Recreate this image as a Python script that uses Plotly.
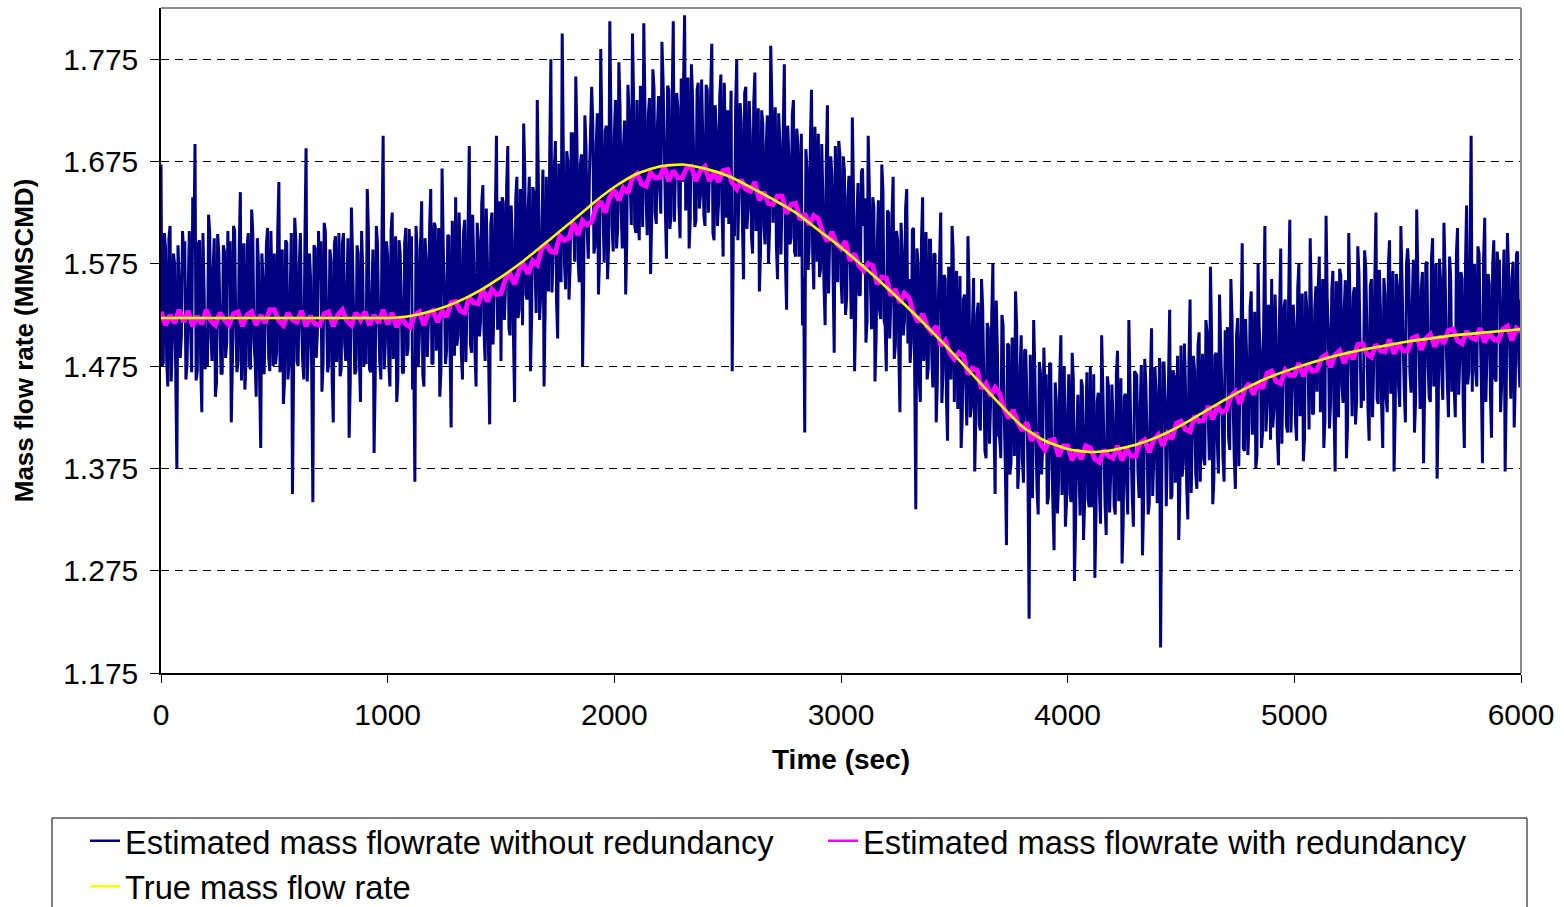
import plotly.graph_objects as go

# ---------------- data ----------------
# Estimated mass flowrate without redundancy, read in two interleaved sample sets:
# samples at t = 0, 10, 20, ... 6000 s and samples at t = 5, 15, ... 5995 s
EVEN_STEP = 10
ODD_OFFSET = 5
MAG_STEP = 20       # seconds between samples of the estimate with redundancy
TRUE_STEP = 100     # seconds between samples of the true flow

est_no_red_even = [
    1.672, 1.478, 1.590, 1.455, 1.612, 1.500, 1.575, 1.375, 1.560, 1.505,  # 0
    1.585, 1.462, 1.548, 1.515, 1.640, 1.692, 1.470, 1.598, 1.430, 1.552,  # 100
    1.490, 1.623, 1.505, 1.571, 1.445, 1.604, 1.520, 1.468, 1.587, 1.498,  # 200
    1.555, 1.420, 1.612, 1.512, 1.480, 1.645, 1.530, 1.452, 1.592, 1.475,  # 300
    1.628, 1.500, 1.445, 1.575, 1.395, 1.560, 1.518, 1.610, 1.470, 1.540,  # 400
    1.585, 1.488, 1.655, 1.505, 1.438, 1.598, 1.462, 1.545, 1.350, 1.620,  # 500
    1.480, 1.572, 1.518, 1.462, 1.688, 1.495, 1.560, 1.342, 1.590, 1.508,  # 600
    1.560, 1.450, 1.615, 1.530, 1.478, 1.578, 1.420, 1.602, 1.512, 1.465,  # 700
    1.595, 1.498, 1.548, 1.405, 1.630, 1.522, 1.470, 1.585, 1.440, 1.568,  # 800
    1.505, 1.648, 1.472, 1.540, 1.390, 1.612, 1.525, 1.462, 1.700, 1.498,  # 900
    1.582, 1.455, 1.625, 1.510, 1.440, 1.598, 1.535, 1.468, 1.610, 1.492,  # 1000
    1.560, 1.452, 1.362, 1.590, 1.505, 1.636, 1.455, 1.578, 1.520, 1.648,  # 1100
    1.478, 1.612, 1.530, 1.445, 1.668, 1.552, 1.490, 1.602, 1.415, 1.575,  # 1200
    1.640, 1.505, 1.585, 1.462, 1.618, 1.532, 1.690, 1.488, 1.570, 1.455,  # 1300
    1.598, 1.520, 1.652, 1.480, 1.578, 1.418, 1.625, 1.545, 1.700, 1.512,  # 1400
    1.480, 1.635, 1.552, 1.690, 1.505, 1.598, 1.440, 1.660, 1.530, 1.615,  # 1500
    1.712, 1.545, 1.628, 1.470, 1.650, 1.575, 1.735, 1.520, 1.605, 1.455,  # 1600
    1.660, 1.548, 1.775, 1.590, 1.695, 1.502, 1.640, 1.800, 1.575, 1.685,  # 1700
    1.540, 1.702, 1.615, 1.758, 1.580, 1.672, 1.475, 1.720, 1.610, 1.660,  # 1800
    1.748, 1.585, 1.690, 1.545, 1.785, 1.630, 1.705, 1.560, 1.812, 1.612,  # 1900
    1.700, 1.590, 1.772, 1.628, 1.688, 1.545, 1.750, 1.655, 1.800, 1.612,  # 2000
    1.735, 1.598, 1.690, 1.810, 1.640, 1.720, 1.565, 1.765, 1.625, 1.708,  # 2100
    1.650, 1.792, 1.695, 1.580, 1.745, 1.622, 1.812, 1.670, 1.728, 1.600,  # 2200
    1.655, 1.818, 1.715, 1.590, 1.770, 1.680, 1.618, 1.752, 1.642, 1.700,  # 2300
    1.612, 1.745, 1.668, 1.790, 1.598, 1.705, 1.635, 1.760, 1.582, 1.690,  # 2400
    1.725, 1.680, 1.470, 1.602, 1.775, 1.645, 1.712, 1.560, 1.748, 1.630,  # 2500
    1.700, 1.585, 1.762, 1.640, 1.548, 1.725, 1.610, 1.690, 1.575, 1.788,  # 2600
    1.615, 1.728, 1.560, 1.695, 1.640, 1.770, 1.530, 1.680, 1.600, 1.735,  # 2700
    1.582, 1.690, 1.625, 1.515, 1.410, 1.668, 1.595, 1.745, 1.550, 1.652,  # 2800
    1.702, 1.570, 1.640, 1.515, 1.730, 1.598, 1.660, 1.488, 1.625, 1.695,  # 2900
    1.560, 1.680, 1.525, 1.640, 1.590, 1.718, 1.470, 1.620, 1.545, 1.665,  # 3000
    1.612, 1.498, 1.700, 1.555, 1.640, 1.460, 1.595, 1.530, 1.672, 1.520,  # 3100
    1.470, 1.625, 1.540, 1.660, 1.495, 1.598, 1.430, 1.585, 1.520, 1.648,  # 3200
    1.560, 1.498, 1.610, 1.335, 1.575, 1.440, 1.640, 1.512, 1.462, 1.598,  # 3300
    1.488, 1.585, 1.420, 1.545, 1.625, 1.470, 1.560, 1.402, 1.530, 1.612,  # 3400
    1.440, 1.568, 1.485, 1.395, 1.540, 1.460, 1.602, 1.425, 1.515, 1.372,  # 3500
    1.525, 1.418, 1.560, 1.462, 1.385, 1.512, 1.440, 1.575, 1.350, 1.490,  # 3600
    1.405, 1.525, 1.430, 1.300, 1.495, 1.380, 1.462, 1.548, 1.355, 1.470,  # 3700
    1.385, 1.490, 1.445, 1.228, 1.360, 1.520, 1.405, 1.330, 1.468, 1.398,  # 3800
    1.452, 1.340, 1.478, 1.385, 1.295, 1.440, 1.362, 1.505, 1.405, 1.318,  # 3900
    1.430, 1.350, 1.488, 1.265, 1.410, 1.372, 1.462, 1.305, 1.420, 1.345,  # 4000
    1.475, 1.380, 1.268, 1.440, 1.352, 1.505, 1.398, 1.310, 1.455, 1.372,  # 4100
    1.420, 1.330, 1.490, 1.385, 1.282, 1.445, 1.360, 1.520, 1.395, 1.318,  # 4200
    1.468, 1.372, 1.435, 1.290, 1.482, 1.405, 1.340, 1.512, 1.385, 1.450,  # 4300
    1.360, 1.200, 1.478, 1.440, 1.392, 1.530, 1.348, 1.465, 1.418, 1.305,  # 4400
    1.495, 1.380, 1.452, 1.325, 1.540, 1.410, 1.470, 1.355, 1.508, 1.430,  # 4500
    1.385, 1.520, 1.428, 1.572, 1.340, 1.485, 1.402, 1.545, 1.452, 1.362,  # 4600
    1.498, 1.405, 1.560, 1.440, 1.355, 1.522, 1.468, 1.595, 1.392, 1.480,  # 4700
    1.420, 1.548, 1.452, 1.375, 1.575, 1.490, 1.410, 1.612, 1.438, 1.525,  # 4800
    1.560, 1.432, 1.505, 1.378, 1.590, 1.470, 1.540, 1.410, 1.618, 1.455,  # 4900
    1.515, 1.402, 1.575, 1.460, 1.382, 1.548, 1.495, 1.600, 1.428, 1.530,  # 5000
    1.450, 1.582, 1.478, 1.395, 1.622, 1.510, 1.440, 1.568, 1.372, 1.535,  # 5100
    1.570, 1.455, 1.530, 1.385, 1.605, 1.482, 1.545, 1.418, 1.592, 1.500,  # 5200
    1.460, 1.588, 1.512, 1.402, 1.560, 1.475, 1.625, 1.438, 1.530, 1.395,  # 5300
    1.545, 1.430, 1.598, 1.490, 1.372, 1.565, 1.455, 1.612, 1.500, 1.420,  # 5400
    1.590, 1.468, 1.535, 1.410, 1.628, 1.495, 1.550, 1.380, 1.575, 1.478,  # 5500
    1.440, 1.600, 1.512, 1.365, 1.580, 1.470, 1.615, 1.498, 1.425, 1.560,  # 5600
    1.505, 1.425, 1.610, 1.482, 1.560, 1.395, 1.632, 1.470, 1.700, 1.548,  # 5700
    1.470, 1.592, 1.515, 1.380, 1.620, 1.488, 1.555, 1.405, 1.598, 1.460,  # 5800
    1.570, 1.430, 1.540, 1.372, 1.605, 1.495, 1.560, 1.415, 1.585, 1.480,  # 5900
    1.540,                                                                 # 6000
]

est_no_red_odd = [
    1.475, 1.605, 1.480, 1.600, 1.460, 1.585, 1.467, 1.593, 1.483, 1.607,  # 5
    1.597, 1.477, 1.607, 1.469, 1.589, 1.461, 1.595, 1.479, 1.605, 1.472,  # 105
    1.475, 1.605, 1.480, 1.600, 1.460, 1.585, 1.467, 1.593, 1.483, 1.607,  # 205
    1.597, 1.477, 1.607, 1.469, 1.589, 1.461, 1.595, 1.479, 1.605, 1.472,  # 305
    1.605, 1.480, 1.600, 1.460, 1.585, 1.467, 1.593, 1.483, 1.607, 1.475,  # 405
    1.477, 1.607, 1.469, 1.589, 1.461, 1.595, 1.479, 1.605, 1.472, 1.597,  # 505
    1.475, 1.605, 1.480, 1.600, 1.460, 1.585, 1.467, 1.593, 1.483, 1.607,  # 605
    1.597, 1.477, 1.607, 1.469, 1.589, 1.461, 1.595, 1.479, 1.605, 1.472,  # 705
    1.605, 1.480, 1.600, 1.460, 1.585, 1.467, 1.593, 1.483, 1.607, 1.475,  # 805
    1.477, 1.607, 1.469, 1.589, 1.461, 1.595, 1.479, 1.605, 1.472, 1.597,  # 905
    1.477, 1.607, 1.482, 1.602, 1.462, 1.587, 1.469, 1.595, 1.485, 1.609,  # 1005
    1.602, 1.482, 1.612, 1.474, 1.594, 1.466, 1.600, 1.484, 1.610, 1.477,  # 1105
    1.615, 1.490, 1.610, 1.470, 1.595, 1.477, 1.603, 1.493, 1.617, 1.485,  # 1205
    1.495, 1.625, 1.487, 1.607, 1.479, 1.613, 1.497, 1.623, 1.490, 1.615,  # 1305
    1.504, 1.634, 1.509, 1.629, 1.489, 1.614, 1.496, 1.622, 1.512, 1.636,  # 1405
    1.640, 1.520, 1.650, 1.512, 1.632, 1.504, 1.638, 1.522, 1.648, 1.515,  # 1505
    1.665, 1.540, 1.660, 1.520, 1.645, 1.527, 1.653, 1.543, 1.667, 1.535,  # 1605
    1.555, 1.685, 1.547, 1.667, 1.539, 1.673, 1.557, 1.683, 1.550, 1.675,  # 1705
    1.572, 1.702, 1.577, 1.697, 1.557, 1.682, 1.564, 1.690, 1.580, 1.704,  # 1805
    1.712, 1.592, 1.722, 1.584, 1.704, 1.576, 1.710, 1.594, 1.720, 1.587,  # 1905
    1.735, 1.610, 1.730, 1.590, 1.715, 1.597, 1.723, 1.613, 1.737, 1.605,  # 2005
    1.619, 1.749, 1.611, 1.731, 1.603, 1.737, 1.621, 1.747, 1.614, 1.739,  # 2105
    1.624, 1.754, 1.629, 1.749, 1.609, 1.734, 1.616, 1.742, 1.632, 1.756,  # 2205
    1.747, 1.627, 1.757, 1.619, 1.739, 1.611, 1.745, 1.629, 1.755, 1.622,  # 2305
    1.750, 1.625, 1.745, 1.605, 1.730, 1.612, 1.738, 1.628, 1.752, 1.620,  # 2405
    1.614, 1.744, 1.606, 1.726, 1.598, 1.732, 1.616, 1.742, 1.609, 1.734,  # 2505
    1.602, 1.732, 1.607, 1.727, 1.587, 1.712, 1.594, 1.720, 1.610, 1.734,  # 2605
    1.712, 1.592, 1.722, 1.584, 1.704, 1.576, 1.710, 1.594, 1.720, 1.587,  # 2705
    1.707, 1.582, 1.702, 1.562, 1.687, 1.569, 1.695, 1.585, 1.709, 1.577,  # 2805
    1.562, 1.692, 1.554, 1.674, 1.546, 1.680, 1.564, 1.690, 1.557, 1.682,  # 2905
    1.536, 1.666, 1.541, 1.661, 1.521, 1.646, 1.528, 1.654, 1.544, 1.668,  # 3005
    1.639, 1.519, 1.649, 1.511, 1.631, 1.503, 1.637, 1.521, 1.647, 1.514,  # 3105
    1.627, 1.502, 1.622, 1.482, 1.607, 1.489, 1.615, 1.505, 1.629, 1.497,  # 3205
    1.478, 1.608, 1.470, 1.590, 1.462, 1.596, 1.480, 1.606, 1.473, 1.598,  # 3305
    1.454, 1.584, 1.459, 1.579, 1.439, 1.564, 1.446, 1.572, 1.462, 1.586,  # 3405
    1.553, 1.433, 1.563, 1.425, 1.545, 1.417, 1.551, 1.435, 1.561, 1.428,  # 3505
    1.537, 1.412, 1.532, 1.392, 1.517, 1.399, 1.525, 1.415, 1.539, 1.407,  # 3605
    1.385, 1.515, 1.377, 1.497, 1.369, 1.503, 1.387, 1.513, 1.380, 1.505,  # 3705
    1.361, 1.491, 1.366, 1.486, 1.346, 1.471, 1.353, 1.479, 1.369, 1.493,  # 3805
    1.467, 1.347, 1.477, 1.339, 1.459, 1.331, 1.465, 1.349, 1.475, 1.342,  # 3905
    1.467, 1.342, 1.462, 1.322, 1.447, 1.329, 1.455, 1.345, 1.469, 1.337,  # 4005
    1.337, 1.467, 1.329, 1.449, 1.321, 1.455, 1.339, 1.465, 1.332, 1.457,  # 4105
    1.338, 1.468, 1.343, 1.463, 1.323, 1.448, 1.330, 1.456, 1.346, 1.470,  # 4205
    1.466, 1.346, 1.476, 1.338, 1.458, 1.330, 1.464, 1.348, 1.474, 1.341,  # 4305
    1.483, 1.358, 1.478, 1.338, 1.463, 1.345, 1.471, 1.361, 1.485, 1.353,  # 4405
    1.367, 1.497, 1.359, 1.479, 1.351, 1.485, 1.369, 1.495, 1.362, 1.487,  # 4505
    1.378, 1.508, 1.383, 1.503, 1.363, 1.488, 1.370, 1.496, 1.386, 1.510,  # 4605
    1.513, 1.393, 1.523, 1.385, 1.505, 1.377, 1.511, 1.395, 1.521, 1.388,  # 4705
    1.533, 1.408, 1.528, 1.388, 1.513, 1.395, 1.521, 1.411, 1.535, 1.403,  # 4805
    1.415, 1.545, 1.407, 1.527, 1.399, 1.533, 1.417, 1.543, 1.410, 1.535,  # 4905
    1.421, 1.551, 1.426, 1.546, 1.406, 1.531, 1.413, 1.539, 1.429, 1.553,  # 5005
    1.550, 1.430, 1.560, 1.422, 1.542, 1.414, 1.548, 1.432, 1.558, 1.425,  # 5105
    1.564, 1.439, 1.559, 1.419, 1.544, 1.426, 1.552, 1.442, 1.566, 1.434,  # 5205
    1.441, 1.571, 1.433, 1.553, 1.425, 1.559, 1.443, 1.569, 1.436, 1.561,  # 5305
    1.443, 1.573, 1.448, 1.568, 1.428, 1.553, 1.435, 1.561, 1.451, 1.575,  # 5405
    1.569, 1.449, 1.579, 1.441, 1.561, 1.433, 1.567, 1.451, 1.577, 1.444,  # 5505
    1.580, 1.455, 1.575, 1.435, 1.560, 1.442, 1.568, 1.458, 1.582, 1.450,  # 5605
    1.455, 1.585, 1.447, 1.567, 1.439, 1.573, 1.457, 1.583, 1.450, 1.575,  # 5705
    1.455, 1.585, 1.460, 1.580, 1.440, 1.565, 1.448, 1.573, 1.463, 1.587,  # 5805
    1.579, 1.459, 1.589, 1.451, 1.571, 1.443, 1.577, 1.461, 1.587, 1.454,  # 5905
]

est_with_redundancy = [
    1.528, 1.515, 1.525, 1.517, 1.530,  # 0
    1.518, 1.529, 1.514, 1.524, 1.516,  # 100
    1.530, 1.519, 1.515, 1.527, 1.520,  # 200
    1.515, 1.526, 1.528, 1.514, 1.525,  # 300
    1.528, 1.515, 1.525, 1.517, 1.530,  # 400
    1.530, 1.519, 1.515, 1.527, 1.520,  # 500
    1.518, 1.529, 1.514, 1.524, 1.516,  # 600
    1.515, 1.526, 1.528, 1.514, 1.525,  # 700
    1.530, 1.519, 1.515, 1.527, 1.520,  # 800
    1.528, 1.515, 1.525, 1.517, 1.530,  # 900
    1.516, 1.527, 1.513, 1.523, 1.516,  # 1000
    1.513, 1.525, 1.528, 1.515, 1.527,  # 1100
    1.529, 1.518, 1.529, 1.523, 1.537,  # 1200
    1.538, 1.529, 1.527, 1.542, 1.537,  # 1300
    1.536, 1.550, 1.538, 1.550, 1.545,  # 1400
    1.546, 1.560, 1.565, 1.555, 1.569,  # 1500
    1.574, 1.565, 1.578, 1.574, 1.590,  # 1600
    1.594, 1.587, 1.586, 1.602, 1.598,  # 1700
    1.600, 1.615, 1.603, 1.617, 1.613,  # 1800
    1.616, 1.630, 1.636, 1.625, 1.640,  # 1900
    1.647, 1.637, 1.649, 1.644, 1.659,  # 2000
    1.663, 1.653, 1.651, 1.664, 1.659,  # 2100
    1.659, 1.670, 1.656, 1.666, 1.659,  # 2200
    1.659, 1.669, 1.670, 1.656, 1.666,  # 2300
    1.670, 1.656, 1.664, 1.655, 1.666,  # 2400
    1.667, 1.654, 1.648, 1.657, 1.648,  # 2500
    1.646, 1.655, 1.637, 1.645, 1.634,  # 2600
    1.633, 1.641, 1.641, 1.624, 1.633,  # 2700
    1.634, 1.618, 1.624, 1.613, 1.622,  # 2800
    1.619, 1.605, 1.597, 1.606, 1.595,  # 2900
    1.590, 1.597, 1.578, 1.585, 1.573,  # 3000
    1.568, 1.575, 1.573, 1.555, 1.562,  # 3100
    1.561, 1.544, 1.550, 1.537, 1.546,  # 3200
    1.542, 1.527, 1.518, 1.526, 1.514,  # 3300
    1.508, 1.514, 1.495, 1.500, 1.488,  # 3400
    1.482, 1.488, 1.485, 1.467, 1.473,  # 3500
    1.471, 1.453, 1.458, 1.446, 1.454,  # 3600
    1.448, 1.433, 1.424, 1.432, 1.420,  # 3700
    1.412, 1.420, 1.402, 1.410, 1.399,  # 3800
    1.393, 1.402, 1.403, 1.387, 1.397,  # 3900
    1.397, 1.383, 1.393, 1.384, 1.397,  # 4000
    1.395, 1.384, 1.381, 1.393, 1.387,  # 4100
    1.385, 1.397, 1.383, 1.394, 1.387,  # 4200
    1.387, 1.400, 1.403, 1.391, 1.403,  # 4300
    1.408, 1.397, 1.409, 1.404, 1.419,  # 4400
    1.421, 1.413, 1.411, 1.426, 1.421,  # 4500
    1.422, 1.436, 1.423, 1.436, 1.430,  # 4600
    1.432, 1.445, 1.450, 1.438, 1.452,  # 4700
    1.458, 1.447, 1.459, 1.453, 1.468,  # 4800
    1.470, 1.460, 1.458, 1.471, 1.466,  # 4900
    1.466, 1.478, 1.465, 1.476, 1.470,  # 5000
    1.471, 1.483, 1.486, 1.474, 1.486,  # 5100
    1.490, 1.478, 1.489, 1.482, 1.496,  # 5200
    1.497, 1.487, 1.484, 1.496, 1.490,  # 5300
    1.489, 1.501, 1.487, 1.497, 1.490,  # 5400
    1.490, 1.502, 1.504, 1.491, 1.502,  # 5500
    1.506, 1.494, 1.504, 1.497, 1.510,  # 5600
    1.511, 1.500, 1.497, 1.509, 1.503,  # 5700
    1.501, 1.512, 1.498, 1.508, 1.501,  # 5800
    1.500, 1.511, 1.514, 1.500, 1.512,  # 5900
    1.509,                              # 6000
]

true_flow = [
    1.522, 1.522, 1.522, 1.522, 1.522, 1.522, 1.522, 1.522, 1.522, 1.522,  # 0-900
    1.522, 1.524, 1.529, 1.537, 1.548, 1.562, 1.578, 1.596, 1.614, 1.633,  # 1000-1900
    1.650, 1.663, 1.670, 1.672, 1.668, 1.661, 1.650, 1.638, 1.625, 1.608,  # 2000-2900
    1.591, 1.572, 1.552, 1.531, 1.509, 1.486, 1.462, 1.438, 1.416, 1.402,  # 3000-3900
    1.394, 1.391, 1.393, 1.398, 1.406, 1.417, 1.430, 1.443, 1.455, 1.465,  # 4000-4900
    1.473, 1.480, 1.486, 1.491, 1.495, 1.499, 1.502, 1.505, 1.507, 1.509,  # 5000-5900
    1.511,                                                                 # 6000
]

y_ticks = [1.175, 1.275, 1.375, 1.475, 1.575, 1.675, 1.775]
x_ticks = [0, 1000, 2000, 3000, 4000, 5000, 6000]

names = ["Estimated mass flowrate without redundancy",
         "Estimated mass flowrate with redundancy",
         "True mass flow rate"]
colors = ["#000080", "#FF00FF", "#FFFF00"]

# merge the two sample sets of the noisy estimate into time order
blue_pts = [(i * EVEN_STEP, v) for i, v in enumerate(est_no_red_even)]
blue_pts += [(i * EVEN_STEP + ODD_OFFSET, v) for i, v in enumerate(est_no_red_odd)]
blue_pts.sort()
t_blue = [p[0] for p in blue_pts]
y_blue = [p[1] for p in blue_pts]

t_mag = [i * MAG_STEP for i in range(len(est_with_redundancy))]
t_true = [i * TRUE_STEP for i in range(len(true_flow))]

FONT = "Liberation Sans, Arial, sans-serif"

fig = go.Figure()
fig.add_trace(go.Scatter(
    x=t_blue, y=y_blue, mode="lines", name=names[0], showlegend=False,
    line=dict(color=colors[0], width=3.0, simplify=False)))
fig.add_trace(go.Scatter(
    x=t_mag, y=est_with_redundancy, mode="lines", name=names[1], showlegend=False,
    line=dict(color=colors[1], width=5, simplify=False)))
fig.add_trace(go.Scatter(
    x=t_true, y=true_flow, mode="lines", name=names[2], showlegend=False,
    line=dict(color=colors[2], width=2.6, shape="spline", smoothing=0.6)))
# legend keys (thin lines like the original legend)
for nm, col in zip(names, colors):
    fig.add_trace(go.Scatter(x=[None], y=[None], mode="lines", name=nm,
                             line=dict(color=col, width=2.5)))

W, H = 1564, 907
L, R, T, B = 161, 43, 8, 234
pw, ph = W - L - R, H - T - B


def px_x(px):
    return (px - L) / pw


def px_y(py):
    return (H - B - py) / ph


fig.update_layout(
    width=W, height=H,
    margin=dict(l=L, r=R, t=T, b=B, autoexpand=False),
    paper_bgcolor="white", plot_bgcolor="white",
    font=dict(family=FONT, color="black", size=30),
    showlegend=True,
    legend=dict(
        orientation="h", x=px_x(85), y=px_y(813), xanchor="left", yanchor="top",
        font=dict(size=32.7, family=FONT), bgcolor="rgba(0,0,0,0)",
        entrywidth=693, entrywidthmode="pixels", borderwidth=0, tracegroupgap=0),
    xaxis=dict(
        range=[0, 6000], tickvals=x_ticks, ticktext=[str(v) for v in x_ticks],
        showgrid=False, zeroline=False, showline=True, linecolor="black", linewidth=1.5,
        ticks="outside", ticklen=8, tickcolor="black", tickwidth=1,
        ticklabelstandoff=6,
        tickfont=dict(size=30),
        title=dict(text="<b>Time (sec)</b>", font=dict(size=28), standoff=20)),
    yaxis=dict(
        range=[1.175, 1.825], tickvals=y_ticks, ticktext=[f"{v:.3f}" for v in y_ticks],
        showgrid=True, gridcolor="black", gridwidth=1, griddash="8px,6px",
        zeroline=False, showline=True, linecolor="black", linewidth=1.5,
        ticks="outside", ticklen=9, tickcolor="black", tickwidth=1,
        ticklabelstandoff=6,
        tickfont=dict(size=30),
        title=dict(text="<b>Mass flow rate (MMSCMD)</b>", font=dict(size=26), standoff=22)),
    shapes=[
        dict(type="line", xref="paper", yref="paper", x0=0, x1=1, y0=1, y1=1,
             line=dict(color="#8c8c8c", width=2)),
        dict(type="line", xref="paper", yref="paper", x0=1, x1=1, y0=0, y1=1,
             line=dict(color="#8c8c8c", width=2)),
        dict(type="rect", xref="paper", yref="paper",
             x0=px_x(52), x1=px_x(1527), y0=px_y(818), y1=px_y(912),
             line=dict(color="black", width=1), fillcolor="rgba(0,0,0,0)", layer="above"),
    ],
)

fig.write_html("out.html")
